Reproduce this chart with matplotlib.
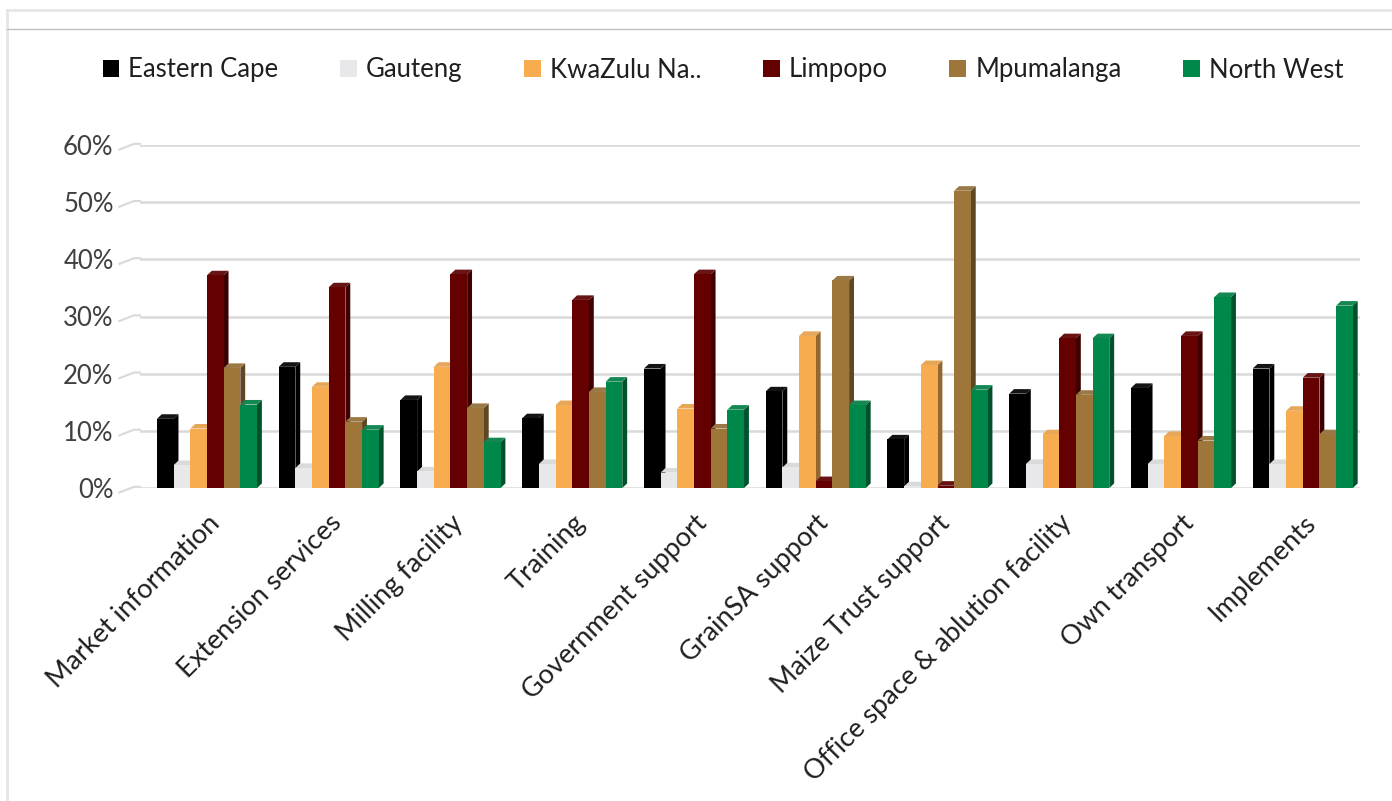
import matplotlib.pyplot as plt
import numpy as np
from matplotlib.patches import Patch, Polygon
from matplotlib.colors import to_rgb
from matplotlib.lines import Line2D

plt.rcParams['font.family'] = ['Lato', 'DejaVu Sans']

# Categories and province series (share of respondents)
categories = ["Market information", "Extension services", "Milling facility", "Training",
              "Government support", "GrainSA support", "Maize Trust support",
              "Office space & ablution facility", "Own transport", "Implements"]
provinces = ["Eastern Cape", "Gauteng", "KwaZulu Na..", "Limpopo", "Mpumalanga", "North West"]

eastern_cape = [0.121, 0.212, 0.154, 0.122, 0.209, 0.169, 0.085, 0.165, 0.175, 0.209]
gauteng      = [0.040, 0.035, 0.029, 0.042, 0.027, 0.036, 0.003, 0.042, 0.042, 0.042]
kwazulu      = [0.104, 0.177, 0.212, 0.145, 0.139, 0.266, 0.215, 0.094, 0.091, 0.135]
limpopo      = [0.372, 0.351, 0.374, 0.329, 0.374, 0.012, 0.004, 0.262, 0.266, 0.193]
mpumalanga   = [0.210, 0.116, 0.140, 0.168, 0.104, 0.363, 0.520, 0.163, 0.083, 0.094]
north_west   = [0.146, 0.102, 0.080, 0.186, 0.137, 0.145, 0.172, 0.262, 0.334, 0.319]

series = [eastern_cape, gauteng, kwazulu, limpopo, mpumalanga, north_west]
colors = ["#000000", "#E8E8EA", "#F7AC50", "#640000", "#9E763A", "#00874A"]

fig = plt.figure(figsize=(13.92, 8.01), dpi=100)
ax = fig.add_axes([140 / 1392, 1 - 488 / 801, 1220 / 1392, 343 / 801])

x = np.arange(len(categories))
width = 0.137
dx, dy = 0.04, 0.008   # fake 3D depth offset

for i, (vals, col) in enumerate(zip(series, colors)):
    pos = x + (i - 2.5) * width
    rgb = np.array(to_rgb(col))
    side = rgb * 0.6
    top = np.minimum(rgb * 0.85 + 0.08, 1)
    ax.bar(pos, vals, width=width, color=col, zorder=3 + i * 0.1, linewidth=0)
    for p, v in zip(pos, vals):
        x0, x1 = p - width / 2, p + width / 2
        ax.add_patch(Polygon([(x1, 0), (x1 + dx, dy), (x1 + dx, v + dy), (x1, v)],
                             closed=True, color=side, lw=0, zorder=3 + i * 0.1 - 0.01,
                             clip_on=False))
        ax.add_patch(Polygon([(x0, v), (x0 + dx, v + dy), (x1 + dx, v + dy), (x1, v)],
                             closed=True, color=top, lw=0, zorder=3 + i * 0.1 - 0.01,
                             clip_on=False))

ax.set_xlim(-0.55, 9.47)
ax.set_ylim(0, 0.6)
yt = np.arange(0, 0.61, 0.1)
ax.set_yticks(yt)
ax.set_yticklabels([f"{int(round(t * 100))}%" for t in yt])
for t in yt:
    ax.axhline(t, color="#D9D9D9", lw=1.8, zorder=1)
    ax.add_line(Line2D([-0.72, -0.6, -0.55], [t - 0.008, t + 0.002, t + 0.002],
                       color="#D9D9D9", lw=1.5, clip_on=False))

ax.set_xticks(x)
ax.set_xticklabels(categories, rotation=45, ha="right", rotation_mode="anchor",
                   fontsize=19.5, color="#1F1F1F")
ax.tick_params(axis="x", length=0, pad=16)
ax.tick_params(axis="y", length=0, pad=19, labelsize=18.5, labelcolor="#404040")
for s in ax.spines.values():
    s.set_visible(False)

handles = [Patch(facecolor=c, edgecolor="none") for c in colors]
fig.legend(handles, provinces, loc="center", bbox_to_anchor=(723 / 1392, 1 - 70 / 801),
           ncol=6, frameon=False, fontsize=18.5, handlelength=0.65, handleheight=0.65,
           handletextpad=0.35, columnspacing=2.4, labelcolor="#1F1F1F")

# worksheet frame
fig.add_artist(Line2D([7 / 1392, 7 / 1392], [0, 1 - 10 / 801], transform=fig.transFigure,
                      color="#E6E6E6", lw=2))
fig.add_artist(Line2D([7 / 1392, 1], [1 - 10 / 801, 1 - 10 / 801], transform=fig.transFigure,
                      color="#E6E6E6", lw=2))
fig.add_artist(Line2D([7 / 1392, 1], [1 - 29 / 801, 1 - 29 / 801], transform=fig.transFigure,
                      color="#BFBFBF", lw=1))

fig.savefig("out.png", dpi=100)
